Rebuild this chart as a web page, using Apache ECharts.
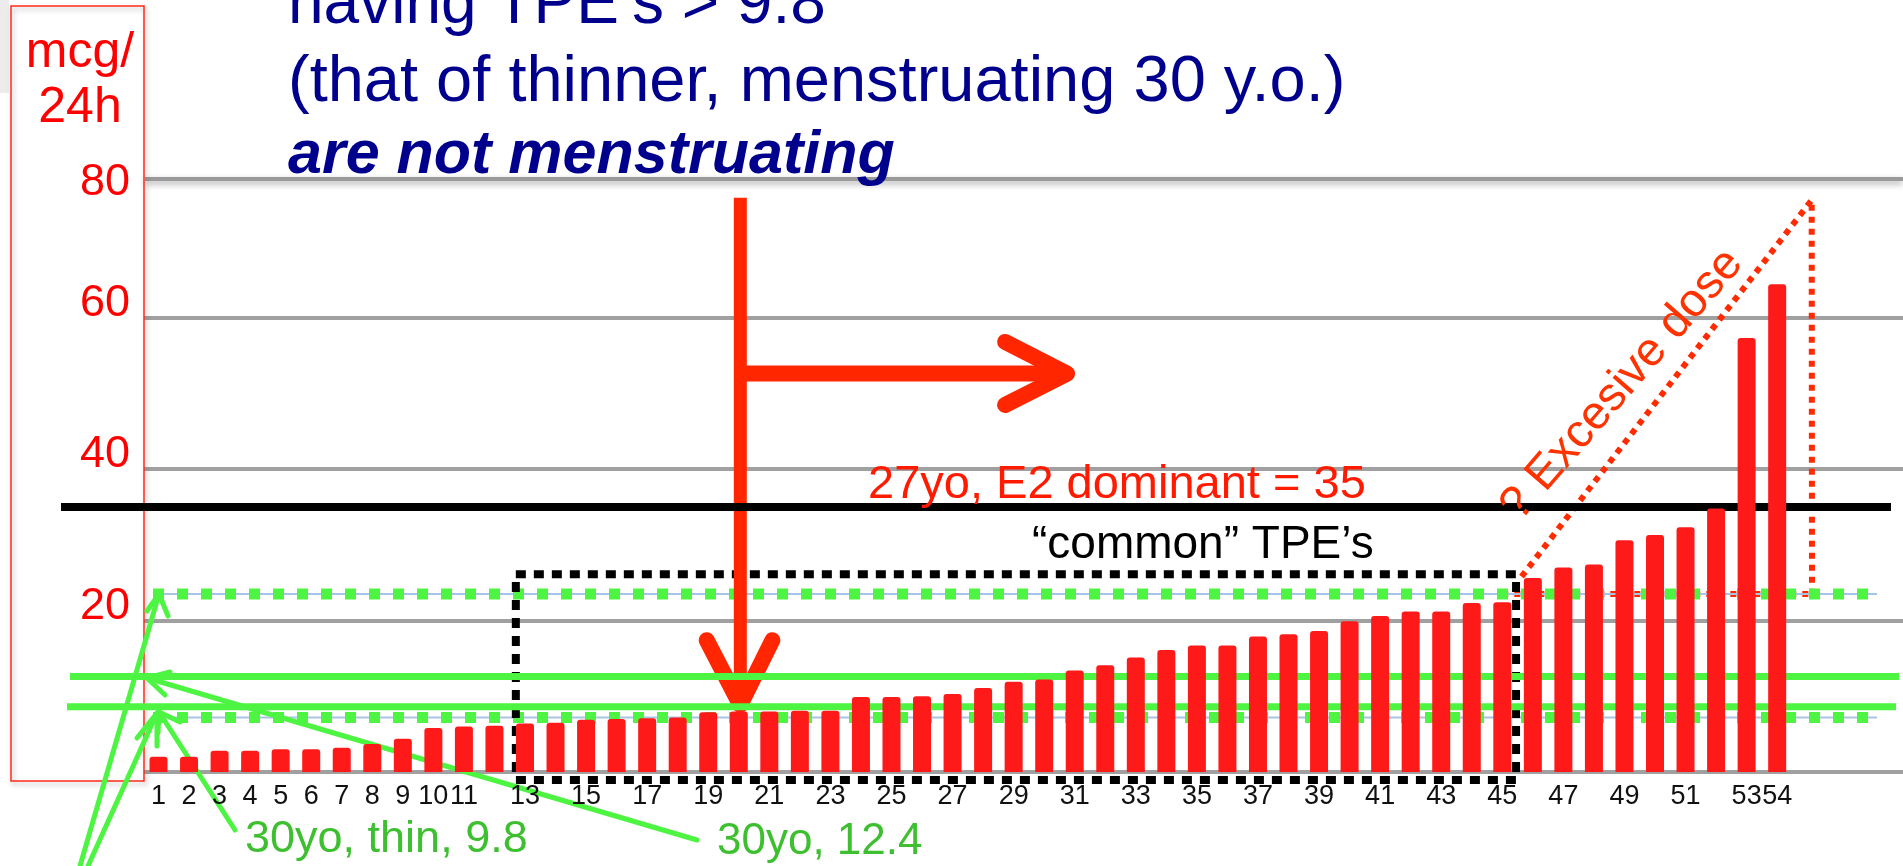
<!DOCTYPE html>
<html>
<head>
<meta charset="utf-8">
<script src="https://cdn.jsdelivr.net/npm/echarts@6/dist/echarts.min.js"></script>
<style>
  html, body { margin: 0; padding: 0; background: #fff; }
  #chart { width: 1903px; height: 866px; }
</style>
</head>
<body>
<div id="chart"></div>
<script>
// women ranked by total estrogen (TPE), mcg/24h
const women = [
  1, 2, 3, 4, 5, 6, 7, 8, 9, 10, 11, 12, 13, 14, 15, 16, 17, 18,
  19, 20, 21, 22, 23, 24, 25, 26, 27, 28, 29, 30, 31, 32, 33, 34, 35, 36,
  37, 38, 39, 40, 41, 42, 43, 44, 45, 46, 47, 48, 49, 50, 51, 52, 53, 54
]
const tpe = [
  2.0, 2.0, 2.8, 2.8, 3.0, 3.0, 3.2, 3.7, 4.4, 5.8, 6.0, 6.1, 6.4, 6.5, 6.9, 7.0, 7.1, 7.2,
  7.9, 8.0, 8.0, 8.1, 8.1, 9.9, 9.9, 10.0, 10.3, 11.1, 11.9, 12.2, 13.4, 14.1, 15.1, 16.1, 16.7, 16.7,
  17.9, 18.2, 18.6, 19.9, 20.6, 21.2, 21.2, 22.3, 22.4, 25.6, 27.0, 27.4, 30.6, 31.3, 32.3, 34.8, 57.3, 64.4
]
// x tick labels that are shown
const xTicks = [1, 2, 3, 4, 5, 6, 7, 8, 9, 10, 11, 13, 15, 17, 19, 21, 23, 25, 27, 29, 31, 33, 35, 37, 39, 41, 43, 45, 47, 49, 51, 53, 54]
const yTicks = [20, 40, 60, 80]

// reference levels
const e2Dominant = 35
const solidRefs = [12.6, 8.6]
const dottedRefs = [23.5, 7.2]

const RED = '#ff1a1a'
const LINE_RED = '#ff2a00'
const GREEN = '#4df542'
const TEXT_GREEN = '#3dbf2f'
const NAVY = '#00008c'
const FONT = 'Liberation Sans'

const chart = echarts.init(document.getElementById('chart'))

const option = {
  animation: false,
  backgroundColor: '#fff',
  grid: { left: 144, right: 0, top: 166, bottom: 94 },
  xAxis: {
    type: 'value',
    min: 0.525,
    max: 58.12,
    axisLine: { show: false },
    axisTick: { show: false },
    splitLine: { show: false },
    axisLabel: {
      customValues: xTicks,
      color: '#111',
      fontFamily: FONT,
      fontSize: 27,
      margin: 11,
    },
  },
  yAxis: {
    type: 'value',
    min: 0,
    max: 80,
    interval: 20,
    axisLine: { show: false },
    axisTick: { show: false },
    splitLine: {
      show: true,
      showMaxLine: false,
      lineStyle: { color: '#a0a0a0', width: 4 },
    },
    axisLabel: {
      margin: 14,
      formatter(v) {
        if (!yTicks.includes(v)) return ''
        return v === 80 ? `{t|${v}}` : `{n|${v}}`
      },
      rich: {
        n: { color: '#ff0000', fontFamily: FONT, fontSize: 45, padding: [0, 0, 28, 0] },
        t: { color: '#ff0000', fontFamily: FONT, fontSize: 45, padding: [34, 0, 0, 0] },
      },
    },
  },
  series: [
    {
      type: 'bar',
      data: women.map((w, i) => [w, tpe[i]]),
      barWidth: 18,
      itemStyle: { color: RED, borderRadius: [3, 3, 0, 0] },
      z: 2,
    },
  ],
}

chart.setOption(option)

// helpers
const px = (x, y) => chart.convertToPixel({ gridIndex: 0 }, [x, y])
const yPx = v => px(1, v)[1]

function hline(y, x1, x2, style) {
  return { type: 'line', shape: { x1, y1: y, x2, y2: y }, style, silent: true }
}
function poly(points, style) {
  return { type: 'polyline', shape: { points }, style: Object.assign({ fill: null }, style), silent: true }
}
function text(t, x, y, style, extra) {
  return Object.assign({
    type: 'text', x, y, silent: true,
    style: Object.assign({ text: t, fontFamily: FONT, verticalAlign: 'middle' }, style),
  }, extra || {})
}

const g = []

// slide decorations
g.push({ type: 'rect', shape: { x: 0, y: 0, width: 9, height: 93 }, style: { fill: '#ececec' }, silent: true })
g.push({
  type: 'rect', shape: { x: 145, y: 177, width: 1758, height: 4 },
  style: { fill: '#9a9a9a', shadowBlur: 6, shadowOffsetY: 3, shadowColor: 'rgba(0,0,0,0.35)' }, silent: true,
})
g.push({
  type: 'rect', shape: { x: 11, y: 6, width: 133, height: 775 },
  style: { fill: null, stroke: '#ff2a1a', lineWidth: 1.5, shadowBlur: 5, shadowOffsetX: 2, shadowOffsetY: 3, shadowColor: 'rgba(0,0,0,0.3)' },
  silent: true,
})

// unit label
g.push(text('mcg/', 80, 53, { fill: '#ff0000', fontSize: 50, align: 'center' }))
g.push(text('24h', 80, 108, { fill: '#ff0000', fontSize: 50, align: 'center' }))

// title lines
g.push(text('having TPE’s > 9.8', 288, 5, { fill: NAVY, fontSize: 64 }))
g.push(text('(that of thinner, menstruating 30 y.o.)', 288, 83, { fill: NAVY, fontSize: 65 }))
g.push(text('are not menstruating', 288, 156, { fill: NAVY, fontSize: 61, fontStyle: 'italic', fontWeight: 'bold' }))

// red dotted "excessive" triangle
const t1 = px(45.63, 25.8), t2 = px(55.13, 75.5), t3 = px(55.14, dottedRefs[0])
g.push(poly([t1, t2, t3], { stroke: LINE_RED, lineWidth: 6, lineDash: [6, 6] }))
g.push(hline(yPx(dottedRefs[0]), px(45.0, 0)[0], t3[0], { stroke: LINE_RED, lineWidth: 6, lineDash: [6, 6] }))

// dotted green levels with a thin blue guide
dottedRefs.forEach(v => {
  g.push(hline(yPx(v), 153, 1877, { stroke: '#a8c4e4', lineWidth: 2 }))
  g.push(hline(yPx(v), 153, 1871, { stroke: GREEN, lineWidth: 11, lineDash: [11, 13] }))
})

// "common" TPE's dotted box
const b1 = px(12.7, 26.1), b2 = px(45.45, -1.05)
g.push({
  type: 'rect', shape: { x: b1[0], y: b1[1], width: b2[0] - b1[0], height: b2[1] - b1[1] },
  style: { fill: null, stroke: '#000', lineWidth: 8, lineDash: [10, 8] }, silent: true,
})

// red arrows
const arrowStyle = { stroke: '#ff2600', lineWidth: 16, lineCap: 'round', lineJoin: 'round' }
g.push(poly([px(20.05, 75.8), px(20.05, 10)], { stroke: '#ff2600', lineWidth: 13 }))
g.push(poly([px(18.95, 17.4), px(20.05, 8.85), px(21.1, 17.4)], arrowStyle))
g.push(poly([px(20.05, 52.6), px(30.5, 52.6)], { stroke: '#ff2600', lineWidth: 16 }))
g.push(poly([px(28.72, 56.77), px(30.75, 52.6), px(28.72, 48.45)], arrowStyle))

// black E2-dominant level
g.push(hline(yPx(e2Dominant), 61, 1891, { stroke: '#000', lineWidth: 8 }))

// solid green levels
g.push(hline(yPx(solidRefs[0]), 70, 1899, { stroke: GREEN, lineWidth: 7 }))
g.push(hline(yPx(solidRefs[1]), 67, 1896, { stroke: GREEN, lineWidth: 7 }))

// green pointer arrows
const gStyle = { stroke: GREEN, lineWidth: 5, lineCap: 'round', lineJoin: 'round' }
const greenArrows = [
  [[80, 866], [159, 594], [147, 611], [168, 616]],
  [[88, 866], [157, 713], [137, 738], [157, 746]],
  [[235, 830], [159, 712], [180, 722], [158, 733]],
  [[697, 840], [147, 678], [170, 672], [165, 695]],
]
greenArrows.forEach(([tail, tip, b1, b2]) => {
  g.push(poly([tail, tip], gStyle))
  g.push(poly([b1, tip, b2], gStyle))
})

// annotation texts
g.push(text('27yo, E2 dominant = 35', 868, 485, { fill: '#ff1a00', fontSize: 47 }))
g.push(text('“common” TPE’s', 1032, 545, { fill: '#000', fontSize: 46 }))
g.push(text('30yo, thin, 9.8', 245, 840, { fill: TEXT_GREEN, fontSize: 45 }))
g.push(text('30yo, 12.4', 717, 842, { fill: TEXT_GREEN, fontSize: 44 }))
g.push(text('? Excesive dose', 1622, 385, { fill: '#ff3300', fontSize: 47, align: 'center' }, { rotation: 49 * Math.PI / 180 }))

chart.setOption({ graphic: g })
</script>
</body>
</html>
